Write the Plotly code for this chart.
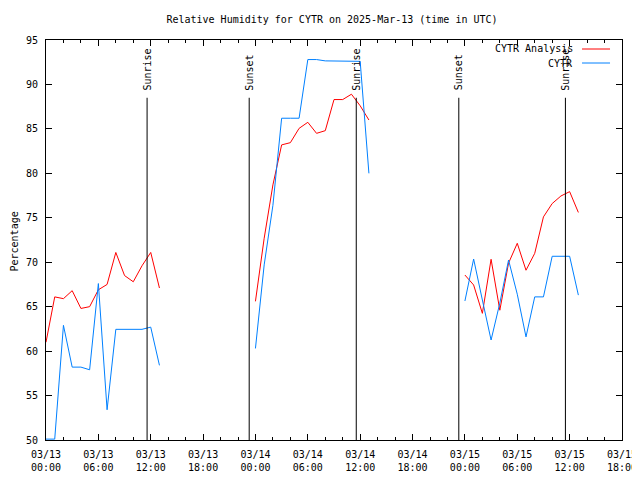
import pandas as pd
import plotly.graph_objects as go

# ---------------- data ----------------
days = ["2025-03-13", "2025-03-14", "2025-03-15"]
hours = list(range(14))  # 00:00 .. 13:00 UTC, hourly

analysis_day1 = [61.0, 66.1, 65.9, 66.8, 64.8, 65.0, 66.9, 67.5, 71.1, 68.5, 67.8, 69.6, 71.1, 67.1]
analysis_day2 = [65.6, 72.7, 78.7, 83.2, 83.45, 85.06, 85.74, 84.5, 84.8, 88.3, 88.3, 88.9, 87.6, 86.0]
analysis_day3 = [68.56, 67.44, 64.25, 70.33, 64.6, 69.9, 72.13, 69.1, 71.0, 75.1, 76.6, 77.45, 77.94, 75.6]

obs_day1 = [50.1, 50.1, 62.9, 58.2, 58.2, 57.9, 67.6, 53.4, 62.45, 62.45, 62.45, 62.45, 62.7, 58.4]
obs_day2 = [60.3, 69.7, 76.4, 86.2, 86.2, 86.2, 92.8, 92.8, 92.65, 92.65, 92.65, 92.65, 92.6, 80.0]
obs_day3 = [65.64, 70.36, 65.75, 61.25, 65.4, 70.25, 66.4, 61.6, 66.1, 66.1, 70.67, 70.67, 70.67, 66.3]

sun_times = ["2025-03-13 11:35", "2025-03-13 23:17", "2025-03-14 11:33",
             "2025-03-14 23:18", "2025-03-15 11:31"]
sun_labels = ["Sunrise", "Sunset", "Sunrise", "Sunset", "Sunrise"]

series_names = ["CYTR Analysis", "CYTR"]
series_colors = ["#ff0000", "#0080ff"]

x_start = "2025-03-13 00:00"
x_end = "2025-03-15 18:00"

FONT = "DejaVu Sans Mono"

# ---------------- build ----------------
def build(day_values):
    xs, ys = [], []
    for d, vals in zip(days, day_values):
        base = pd.Timestamp(d)
        for h, v in zip(hours, vals):
            xs.append(base + pd.Timedelta(hours=h))
            ys.append(v)
        xs.append(base + pd.Timedelta(hours=hours[-1] + 1))
        ys.append(None)
    return xs, ys

xa, ya = build([analysis_day1, analysis_day2, analysis_day3])
xo, yo = build([obs_day1, obs_day2, obs_day3])

fig = go.Figure()
fig.add_trace(go.Scatter(x=xa, y=ya, mode="lines", name=series_names[0],
                         line=dict(color=series_colors[0], width=1),
                         connectgaps=False, showlegend=False))
fig.add_trace(go.Scatter(x=xo, y=yo, mode="lines", name=series_names[1],
                         line=dict(color=series_colors[1], width=1),
                         connectgaps=False, showlegend=False, xaxis="x2"))

shapes = []
annotations = []
for t, lab in zip(sun_times, sun_labels):
    shapes.append(dict(type="line", xref="x", yref="y", x0=t, x1=t, y0=50, y1=88.5,
                       line=dict(color="black", width=1)))
    annotations.append(dict(x=t, y=89.1, xref="x", yref="y", text=lab, textangle=-90,
                            xanchor="center", yanchor="bottom", showarrow=False,
                            font=dict(family=FONT, size=10, color="black")))

# manual legend (gnuplot style: text right-aligned, sample on the right)
leg_y = [0.9775, 0.9425]
for name, col, yy in zip(series_names, series_colors, leg_y):
    annotations.append(dict(x=0.918, y=yy, xref="paper", yref="paper", text=name,
                            xanchor="right", yanchor="middle", showarrow=False,
                            font=dict(family=FONT, size=10, color="black")))
    shapes.append(dict(type="line", xref="paper", yref="paper", x0=0.9306, x1=0.9792,
                       y0=yy, y1=yy, line=dict(color=col, width=1)))

annotations.append(dict(x=-0.0564, y=0.495, xref="paper", yref="paper", text="Percentage",
                        textangle=-90, xanchor="center", yanchor="middle", showarrow=False,
                        font=dict(family=FONT, size=10, color="black")))

axis_common = dict(showgrid=False, zeroline=False, showline=True, linecolor="black",
                   linewidth=1, ticks="inside", tickcolor="black", tickwidth=1,
                   automargin=False,
                   tickfont=dict(family=FONT, size=10, color="black"))

# the page body adds an 8px offset, so the figure is 8px smaller than the window
fig.update_layout(
    width=632, height=472,
    margin=dict(l=38, r=18, t=32, b=40),
    paper_bgcolor="white", plot_bgcolor="white",
    font=dict(family=FONT, size=10, color="black"),
    title=dict(text="Relative Humidity for CYTR on 2025-Mar-13 (time in UTC)",
               x=(332 - 8) / 632, xanchor="center", y=1 - 11 / 472, yanchor="middle",
               font=dict(family=FONT, size=10, color="black")),
    xaxis=dict(range=[x_start, x_end], type="date", dtick=6 * 3600 * 1000,
               tick0=x_start, tickformat="%m/%d", ticklen=6, mirror="ticks",
               minor=dict(dtick=2 * 3600 * 1000, ticklen=3, ticks="inside",
                          tickcolor="black", showgrid=False),
               ticklabelstandoff=5, **axis_common),
    xaxis2=dict(range=[x_start, x_end], type="date", dtick=6 * 3600 * 1000,
                tick0=x_start, tickformat="%H:%M", overlaying="x", anchor="y",
                side="bottom", showgrid=False, zeroline=False, showline=False,
                ticks="", ticklabelstandoff=20, automargin=False,
                tickfont=dict(family=FONT, size=10, color="black")),
    yaxis=dict(range=[50, 95], dtick=5, ticklen=6, mirror="ticks",
               ticklabelstandoff=5, **axis_common),
    shapes=shapes,
    annotations=annotations,
)

fig.write_html("out.html")
